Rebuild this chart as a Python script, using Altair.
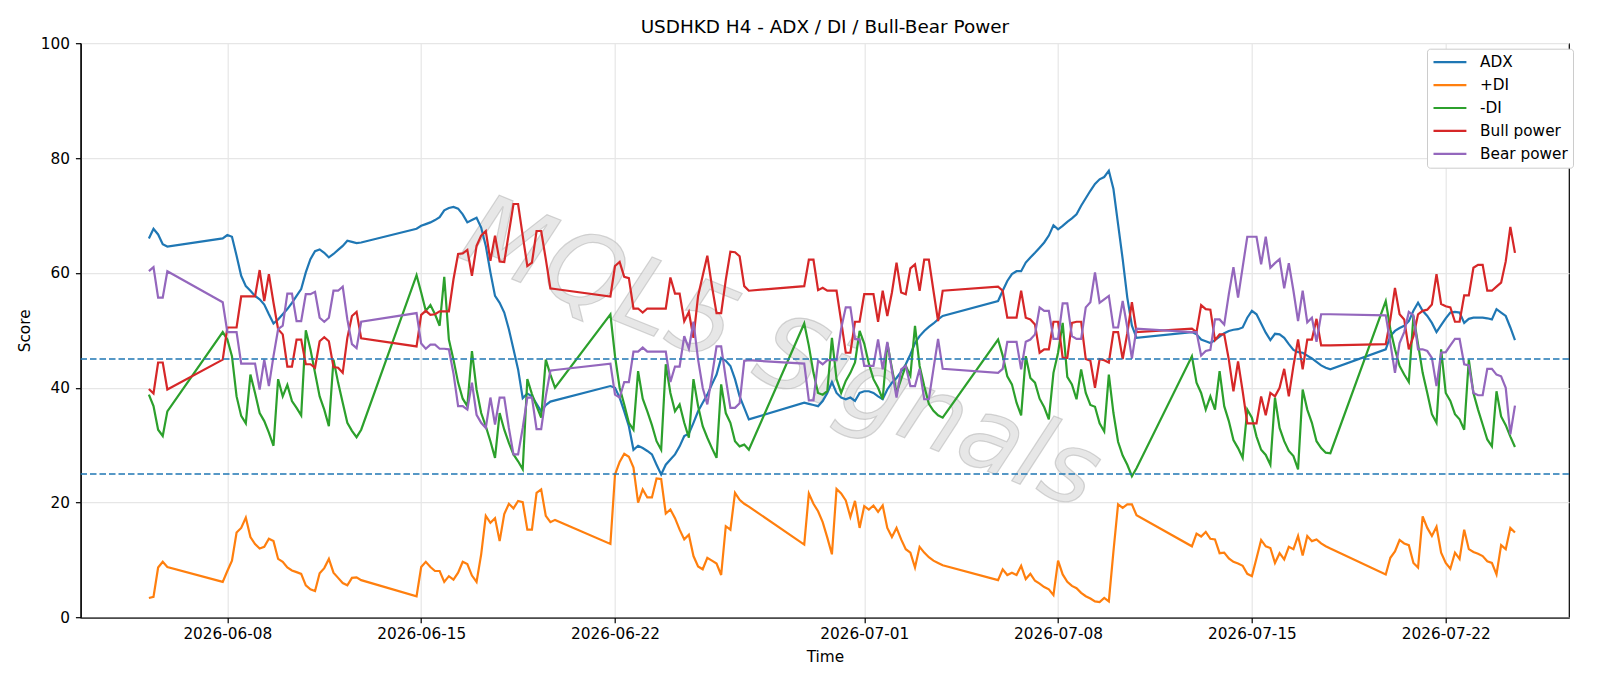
import altair as alt
import pandas as pd

# ---- time axis: H4 bars, counted from 2026-06-08 00:00; weekend gaps between segments
base_time = "2026-06-08 00:00"
seg_start = [-17, -1, 41, 83, 125, 167, 209, 251]
seg_len = [5, 31, 31, 31, 31, 31, 31, 29]

adx = [66.0, 67.7, 66.7, 65.0, 64.6,
       66.0, 66.6, 66.3, 63.0, 59.5, 57.7, 56.9, 56.0, 55.4, 54.5, 52.8, 51.2, 51.9, 52.8, 53.7, 54.8,
       56.0, 57.2, 60.1, 62.4, 63.8, 64.1, 63.5, 62.7, 63.3, 64.0, 64.7, 65.6, 65.4, 65.2, 65.3,
       67.7, 68.2, 68.5, 68.8, 69.2, 69.7, 70.9, 71.3, 71.5, 71.2, 70.2, 68.8, 69.2, 69.6, 67.9, 64.7,
       60.1, 56.0, 54.8, 53.1, 50.2, 46.7, 43.2, 38.2, 39.0, 38.5, 37.2, 35.9, 37.0, 37.6, 37.8,
       40.3, 40.0, 38.3, 35.9, 33.3, 29.2, 29.9, 29.5, 29.0, 28.4, 26.6, 24.9, 26.6, 27.5, 28.4, 29.8,
       31.6, 32.0, 33.9, 35.9, 37.4, 38.8, 40.6, 42.3, 45.2, 44.7, 43.8, 41.5, 38.5, 36.5, 34.5,
       37.4, 37.2, 37.0, 36.8, 37.7, 39.1, 41.0, 39.1, 38.3, 38.0, 38.3, 37.7, 39.1, 39.4, 39.4, 39.1,
       38.5, 38.0, 39.7, 40.9, 41.7, 42.8, 44.1, 45.8, 47.8, 49.0, 49.9, 50.6, 51.2, 51.9, 52.5,
       55.1, 56.9, 58.6, 59.8, 60.3, 60.3, 61.8, 62.7, 63.5, 64.4, 65.3, 66.5, 68.3, 67.6, 68.2, 68.9,
       69.5, 70.2, 71.7, 73.0, 74.3, 75.5, 76.3, 76.7, 77.8, 74.6, 68.5, 62.4, 55.7, 50.8, 48.7,
       49.7, 49.3, 48.4, 48.1, 47.8, 48.3, 48.9, 49.5, 49.9, 50.1, 50.2, 50.5, 52.2, 53.4, 52.8, 51.2,
       49.6, 48.3, 49.4, 49.3, 48.7, 47.6, 46.6, 46.2, 46.1, 45.6, 45.1, 44.5, 43.9, 43.5, 43.2,
       46.7, 49.0, 49.9, 50.4, 50.8, 51.6, 53.4, 54.8, 53.4, 52.5, 51.3, 49.7, 50.9, 52.1, 53.1, 53.2,
       53.1, 51.3, 52.0, 52.2, 52.2, 52.2, 52.1, 51.9, 53.7, 53.1, 52.5, 50.5, 48.3]

plus_di = [3.4, 3.6, 8.7, 9.7, 8.8,
           6.2, 8.1, 9.9, 14.8, 15.6, 17.4, 14.0, 12.8, 12.0, 12.3, 13.7, 13.3, 10.2, 9.7, 8.7, 8.2,
           7.9, 7.6, 5.6, 4.9, 4.6, 7.7, 8.6, 10.2, 7.8, 6.9, 6.0, 5.6, 6.9, 7.0, 6.5,
           3.7, 8.8, 9.7, 8.8, 8.1, 8.1, 6.2, 7.2, 6.6, 7.8, 9.7, 9.3, 7.3, 6.2, 11.0, 17.7,
           16.5, 17.3, 13.3, 18.0, 19.8, 19.0, 20.3, 20.1, 15.3, 15.3, 21.7, 22.3, 17.7, 16.6, 17.0,
           12.8, 24.9, 27.1, 28.5, 28.0, 26.1, 20.0, 22.3, 20.9, 20.9, 24.2, 24.1, 18.1, 18.8, 17.3, 15.3,
           13.6, 14.4, 10.7, 8.9, 8.4, 10.4, 9.9, 9.4, 7.4, 15.9, 15.3, 21.7, 20.5, 19.8, 19.3,
           12.7, 21.6, 19.8, 18.5, 16.6, 13.9, 11.0, 22.4, 21.6, 20.4, 17.5, 20.3, 15.6, 19.4, 18.8, 19.5,
           18.4, 19.5, 15.6, 14.0, 15.6, 13.6, 11.9, 11.3, 8.7, 12.3, 11.3, 10.5, 9.9, 9.5, 9.1,
           6.5, 8.4, 7.4, 7.8, 7.4, 9.0, 6.7, 7.6, 6.4, 5.9, 5.3, 4.9, 3.9, 9.9, 7.5, 6.2,
           5.5, 5.1, 4.3, 3.7, 3.3, 2.8, 2.7, 3.4, 2.8, 11.5, 19.7, 19.1, 19.7, 19.7, 17.8,
           12.4, 14.6, 14.1, 14.9, 13.7, 13.6, 11.2, 11.3, 10.3, 9.7, 9.4, 9.0, 7.6, 7.2, 10.3, 13.5,
           12.4, 12.1, 9.5, 11.2, 10.1, 12.3, 11.9, 14.2, 10.8, 14.2, 13.3, 13.6, 12.9, 12.4, 12.0,
           7.5, 10.4, 11.5, 13.5, 12.9, 12.6, 9.5, 8.7, 17.6, 15.6, 14.2, 15.8, 11.3, 9.5, 8.5, 11.3,
           10.2, 15.3, 11.9, 11.4, 11.1, 10.7, 9.8, 9.5, 7.5, 12.6, 11.9, 15.6, 14.8]

minus_di = [38.8, 36.8, 32.7, 31.6, 35.9,
            49.7, 48.4, 45.5, 38.5, 35.1, 33.8, 42.3, 39.1, 35.6, 34.2, 32.2, 29.9, 41.5, 38.5, 40.5, 37.7,
            36.5, 35.2, 50.0, 46.7, 42.6, 38.5, 36.2, 33.3, 44.9, 40.9, 37.4, 33.9, 32.5, 31.4, 32.7,
            59.6, 56.6, 53.4, 54.4, 52.8, 50.8, 59.3, 48.4, 44.9, 40.9, 38.1, 36.8, 46.4, 39.7, 35.6, 33.3,
            30.7, 27.8, 35.6, 32.7, 30.4, 28.4, 27.2, 25.8, 41.5, 38.9, 36.8, 34.8, 44.9, 42.3, 40.0,
            52.8, 45.5, 40.0, 37.1, 33.9, 32.7, 42.9, 38.1, 35.9, 33.5, 30.7, 29.2, 44.1, 39.1, 35.9, 37.1,
            33.9, 31.3, 41.5, 36.8, 33.3, 31.3, 29.5, 27.8, 40.6, 35.6, 33.9, 30.7, 29.8, 30.1, 29.2,
            51.2, 47.3, 42.6, 39.1, 38.8, 39.4, 48.7, 41.5, 39.1, 41.2, 42.6, 44.4, 49.9, 47.7, 44.2, 41.5,
            40.0, 38.0, 47.8, 43.4, 39.1, 41.5, 43.8, 42.1, 50.8, 43.8, 40.3, 37.2, 36.0, 35.2, 34.8,
            48.4, 45.6, 42.0, 40.6, 37.4, 35.2, 45.5, 41.7, 40.9, 38.1, 36.6, 34.5, 42.6, 46.1, 51.3, 41.9,
            40.6, 38.0, 43.2, 39.1, 37.0, 36.7, 33.8, 32.4, 42.3, 35.6, 30.6, 28.2, 26.6, 24.6, 26.0,
            45.5, 40.9, 39.1, 36.2, 38.5, 36.2, 42.9, 36.8, 34.2, 30.9, 29.5, 27.8, 36.2, 34.8, 31.5, 29.2,
            28.3, 26.6, 38.3, 33.0, 30.7, 29.0, 28.1, 25.8, 39.7, 36.2, 33.9, 30.7, 29.5, 28.7, 28.6,
            55.1, 50.2, 46.7, 43.8, 42.3, 41.0, 52.5, 47.6, 42.6, 39.1, 35.4, 33.9, 46.7, 39.1, 37.7, 35.4,
            34.5, 32.7, 44.9, 39.1, 36.2, 33.6, 31.0, 29.8, 39.4, 35.0, 33.5, 31.5, 29.7]

bull = [39.8, 39.0, 44.4, 44.4, 39.7,
        44.9, 50.5, 50.5, 50.5, 55.9, 55.9, 55.9, 55.9, 60.5, 55.1, 59.8, 54.8, 50.2, 49.3, 43.7, 43.7,
        48.4, 48.4, 44.1, 44.1, 43.5, 48.1, 48.8, 48.1, 43.6, 43.5, 42.6, 48.7, 52.5, 53.2, 48.6,
        47.2, 52.7, 53.4, 52.7, 52.8, 53.3, 53.3, 53.3, 58.9, 63.3, 63.4, 64.0, 59.5, 64.7, 66.5, 67.3,
        62.1, 66.5, 62.0, 61.9, 67.0, 72.0, 72.0, 66.5, 61.2, 61.8, 67.3, 67.3, 62.4, 57.3, 57.2,
        55.9, 61.2, 61.9, 59.3, 59.1, 53.8, 53.8, 53.1, 53.8, 53.8, 53.8, 53.8, 53.8, 59.2, 56.4, 56.4,
        51.6, 53.2, 48.7, 56.0, 59.5, 63.0, 57.7, 53.0, 53.0, 58.8, 63.7, 63.6, 62.9, 57.7, 56.9,
        57.7, 62.3, 62.3, 57.0, 57.4, 56.9, 56.9, 56.9, 51.6, 46.1, 46.1, 51.5, 51.5, 56.3, 56.3, 56.3,
        51.5, 56.9, 52.5, 56.6, 61.8, 56.6, 56.3, 60.8, 61.5, 56.9, 62.3, 62.3, 56.9, 51.6, 56.9,
        57.6, 56.9, 52.2, 52.2, 52.2, 56.9, 52.2, 51.9, 51.0, 46.1, 46.7, 46.7, 51.5, 51.5, 45.2, 45.2,
        51.3, 51.5, 51.5, 45.0, 44.7, 40.0, 45.0, 44.8, 44.4, 49.7, 49.7, 45.0, 49.5, 54.9, 49.7,
        50.3, 49.7, 54.4, 53.7, 53.6, 48.3, 49.3, 49.3, 44.9, 39.4, 44.6, 39.4, 33.8, 33.8, 33.8, 38.5,
        35.2, 39.1, 38.5, 40.0, 43.3, 38.5, 43.8, 48.4, 43.2, 48.4, 48.4, 52.0, 47.4, 47.4, 47.4,
        47.6, 51.9, 57.4, 52.8, 51.9, 46.7, 49.0, 52.8, 53.4, 53.6, 54.5, 59.8, 54.6, 54.2, 54.0, 51.5,
        51.5, 56.1, 56.1, 60.9, 61.4, 61.4, 56.9, 56.9, 57.6, 58.3, 62.0, 68.0, 63.5]

bear = [60.3, 61.0, 55.7, 55.7, 60.3,
        54.9, 49.7, 49.7, 49.7, 44.2, 44.2, 44.2, 44.2, 39.7, 44.9, 40.3, 45.5, 50.2, 50.8, 56.4, 56.4,
        51.6, 51.6, 56.3, 56.3, 56.7, 52.2, 51.5, 52.2, 56.9, 56.9, 57.6, 51.9, 47.6, 46.9, 51.5,
        53.0, 47.7, 46.8, 47.5, 47.5, 46.8, 46.8, 46.7, 42.5, 36.8, 36.8, 36.2, 40.9, 35.3, 33.9, 33.0,
        38.3, 33.6, 38.3, 38.3, 33.0, 28.4, 28.4, 33.0, 38.3, 38.3, 32.8, 32.8, 38.5, 43.0, 43.1,
        44.2, 38.8, 38.3, 41.0, 41.0, 46.3, 46.3, 47.0, 46.3, 46.3, 46.3, 46.3, 46.3, 41.0, 43.7, 43.7,
        49.0, 46.8, 51.5, 44.9, 40.0, 37.1, 42.0, 47.2, 47.2, 41.6, 36.5, 36.5, 37.3, 44.7, 44.8,
        44.2, 37.8, 37.8, 44.7, 44.1, 44.8, 44.8, 44.8, 50.3, 54.0, 54.0, 48.5, 48.4, 43.8, 43.8, 43.8,
        48.4, 43.2, 48.0, 43.0, 38.3, 43.2, 43.8, 40.3, 40.3, 43.3, 38.0, 38.0, 43.3, 48.5, 43.3,
        42.6, 43.3, 48.0, 48.0, 48.0, 43.2, 48.0, 48.4, 49.3, 54.0, 53.4, 53.4, 48.5, 48.5, 54.7, 54.7,
        49.0, 48.5, 48.5, 54.0, 54.9, 60.1, 54.8, 55.4, 56.0, 50.5, 50.5, 55.1, 50.5, 45.1, 50.3,
        49.7, 49.7, 45.6, 46.4, 46.6, 51.9, 51.9, 51.0, 56.3, 61.0, 55.7, 61.0, 66.3, 66.3, 66.3, 61.5,
        66.3, 60.9, 61.7, 62.4, 57.3, 61.7, 56.9, 51.6, 56.9, 51.4, 52.2, 48.0, 52.8, 52.8, 52.8,
        52.6, 47.8, 42.6, 47.8, 49.7, 53.2, 52.6, 46.7, 46.7, 46.4, 45.2, 40.3, 46.1, 46.2, 47.4, 48.5,
        48.5, 44.1, 43.9, 39.1, 38.7, 38.7, 43.3, 43.3, 42.3, 42.0, 40.0, 31.9, 36.9]

series_names = ["ADX", "+DI", "-DI", "Bull power", "Bear power"]
series_colors = ["#1f77b4", "#ff7f0e", "#2ca02c", "#d62728", "#9467bd"]
x_tick_dates = ["2026-06-08", "2026-06-15", "2026-06-22", "2026-07-01",
                "2026-07-08", "2026-07-15", "2026-07-22"]
y_ticks = [0, 20, 40, 60, 80, 100]
levels = [25, 45]
x_domain = ["2026-06-02 16:54", "2026-07-26 10:50"]
watermark_text = ["MQL5 Signals"]

# ---- build long table
bars = [s + i for s, n in zip(seg_start, seg_len) for i in range(n)]
t0 = pd.Timestamp(base_time)
times = [t0 + pd.Timedelta(hours=4 * b) for b in bars]
rows = []
for name, vals in zip(series_names, [adx, plus_di, minus_di, bull, bear]):
    assert len(vals) == len(times), (name, len(vals), len(times))
    for t, v in zip(times, vals):
        rows.append({"time": t, "value": v, "series": name})
df = pd.DataFrame(rows)


def to_dt(s):
    ts = pd.Timestamp(s)
    return alt.DateTime(year=ts.year, month=ts.month, date=ts.day,
                        hours=ts.hour, minutes=ts.minute)


FONT = "DejaVu Sans"
W, H = 1488.3, 574.3

lines = alt.Chart(df).mark_line(strokeWidth=2.2).encode(
    x=alt.X("time:T",
            scale=alt.Scale(domain=[to_dt(d) for d in x_domain]),
            axis=alt.Axis(values=[to_dt(d) for d in x_tick_dates], format="%Y-%m-%d",
                          title="Time", labelPadding=4, titleY=38.5,
                          titleBaseline="middle")),
    y=alt.Y("value:Q",
            scale=alt.Scale(domain=[0, 100], nice=False, zero=False),
            axis=alt.Axis(values=y_ticks, title="Score", labelPadding=6,
                          titleX=-55.7, titleY=H / 2, titleAngle=270,
                          titleAlign="center", titleBaseline="middle")),
    color=alt.Color("series:N",
                    scale=alt.Scale(domain=series_names, range=series_colors),
                    legend=alt.Legend(title=None, orient="none", legendX=1346.3, legendY=5.5,
                                      symbolType="M-1,0H3.7", symbolSize=196,
                                      symbolStrokeWidth=2.2, labelFontSize=15.3,
                                      labelFont=FONT, labelColor="black", labelOffset=31,
                                      padding=5, rowPadding=5.9, strokeColor="#cccccc",
                                      fillColor="white", cornerRadius=3, labelLimit=300)),
)

rules = alt.Chart(pd.DataFrame({"level": levels})).mark_rule(
    color="#1f77b4", strokeDash=[6.5, 3], strokeWidth=1.4
).encode(y="level:Q")

wm = alt.Chart(pd.DataFrame({"t": watermark_text})).mark_text(
    angle=22, fontSize=100, font=FONT, fontStyle="italic", color="#e2e2e2",
    opacity=0.8, stroke="#a8a8a8", strokeWidth=1.2, strokeOpacity=0.6
).encode(x=alt.value(700), y=alt.value(312), text="t:N")

chart = alt.layer(wm, lines, rules).properties(
    width=W, height=H,
    background="white",
    title=alt.TitleParams("USDHKD H4 - ADX / DI / Bull-Bear Power", fontSize=18.4,
                          font=FONT, fontWeight="normal", color="black", anchor="middle",
                          offset=0),
    autosize=alt.AutoSizeParams(type="none"),
    padding={"left": 80.7, "top": 43.2, "right": 31, "bottom": 68.5},
).configure_view(stroke="black", strokeWidth=1.2).configure_axis(
    labelFont=FONT, titleFont=FONT, labelFontSize=15.3, titleFontSize=15.3,
    labelColor="black", titleColor="black", titleFontWeight="normal",
    domainColor="black", domainWidth=1.2, tickColor="black", tickSize=5.3, tickWidth=1.2,
    gridColor="#e6e6e6", gridWidth=1.2,
)

chart.save("out.html", embed_options={"renderer": "svg", "actions": False})
